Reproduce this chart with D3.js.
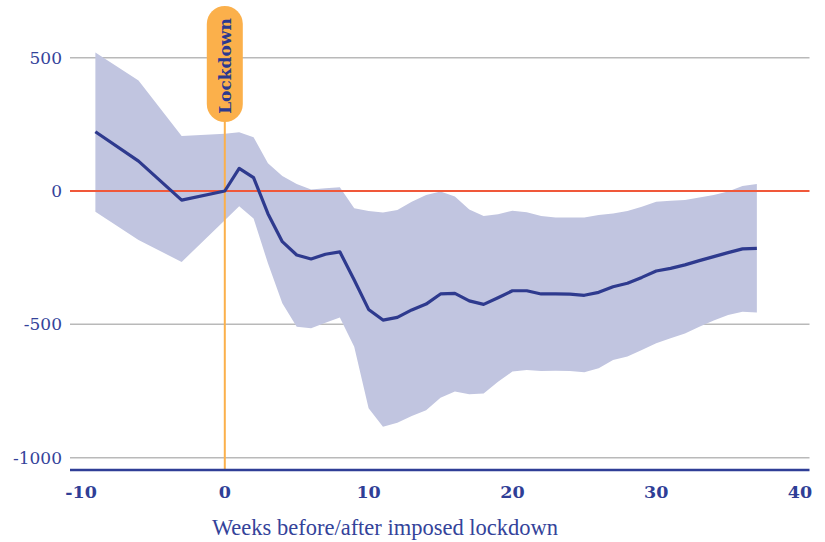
<!DOCTYPE html>
<html><head><meta charset="utf-8">
<script src="https://cdn.jsdelivr.net/npm/d3@7"></script>
<style>html,body{margin:0;padding:0;background:#fff;}svg{display:block;}</style>
</head><body>
<svg id="chart" width="825" height="542"></svg>
<script>
const weeks = [-9,-6,-3,0,1,2,3,4,5,6,7,8,9,10,11,12,13,14,15,16,17,18,19,20,21,22,23,24,25,26,27,28,29,30,31,32,33,34,35,36,37];
const meanVals = [222,112,-34,0,85,50,-85,-190,-240,-255,-237,-228,-334,-444,-484,-474,-446,-424,-386,-384,-412,-425,-400,-374,-374,-386,-386,-387,-391,-380,-359,-346,-324,-300,-290,-277,-261,-246,-231,-217,-215];
const upperVals = [519,414,206,215,220,202,104,56,26,6,10,14,-65,-75,-81,-71,-40,-15,-2,-21,-69,-94,-87,-74,-80,-94,-99,-99,-99,-90,-84,-75,-59,-40,-37,-34,-24,-15,-2,19,26];
const lowerVals = [-78,-184,-266,-110,-57,-103,-271,-421,-509,-515,-494,-474,-584,-815,-884,-869,-844,-822,-775,-752,-762,-759,-715,-677,-671,-675,-674,-675,-680,-665,-634,-621,-596,-571,-552,-534,-509,-486,-465,-453,-456];
const xTicks = [-10,0,10,20,30,40];
const yTicks = [500,0,-500,-1000];
const xTitle = "Weeks before/after imposed lockdown";
const markerLabel = "Lockdown";

const navy = "#2E3A8E";
const svg = d3.select("#chart");
const x = d3.scaleLinear().domain([-10,40]).range([81,800]);
const y = d3.scaleLinear().domain([0,-1000]).range([191,457.7]);
const left = 70, right = 809.5, axisY = 470;

const data = weeks.map((w,i)=>({w, m:meanVals[i], u:upperVals[i], l:lowerVals[i]}));

// gridlines
svg.append("g").selectAll("line").data(yTicks.filter(v=>v!==0)).join("line")
  .attr("x1",left).attr("x2",right).attr("y1",d=>y(d)).attr("y2",d=>y(d))
  .attr("stroke","#B9B9B9").attr("stroke-width",1.5);

// band
svg.append("path").datum(data)
  .attr("d", d3.area().x(d=>x(d.w)).y0(d=>y(d.l)).y1(d=>y(d.u)))
  .attr("fill","#C1C5E0");

// zero line
svg.append("line").attr("x1",left).attr("x2",right).attr("y1",y(0)).attr("y2",y(0))
  .attr("stroke","#F0583A").attr("stroke-width",2);

// lockdown vertical line
svg.append("line").attr("x1",x(0)).attr("x2",x(0)).attr("y1",120).attr("y2",axisY)
  .attr("stroke","#FBB04B").attr("stroke-width",2);

// mean line
svg.append("path").datum(data)
  .attr("d", d3.line().x(d=>x(d.w)).y(d=>y(d.m)))
  .attr("fill","none").attr("stroke",navy).attr("stroke-width",3.2).attr("stroke-linejoin","round");

// bottom axis line
svg.append("line").attr("x1",left).attr("x2",right).attr("y1",axisY).attr("y2",axisY)
  .attr("stroke","#2F3E96").attr("stroke-width",2.5);

// y labels
svg.append("g").selectAll("text").data(yTicks).join("text")
  .attr("x",62).attr("y",d=>y(d)).attr("dy","0.35em").attr("text-anchor","end")
  .attr("font-family","DejaVu Serif").attr("font-size",17).attr("fill","#34439A")
  .text(d=>d);

// x labels
svg.append("g").selectAll("text").data(xTicks).join("text")
  .attr("x",d=>x(d)).attr("y",497.5).attr("text-anchor","middle")
  .attr("font-family","DejaVu Serif").attr("font-weight","bold").attr("font-size",17.5).attr("fill","#2F3E96")
  .text(d=>d);

// x title
svg.append("text").attr("x",385).attr("y",535).attr("text-anchor","middle")
  .attr("font-family","Liberation Serif").attr("font-size",22.5).attr("fill","#34439A")
  .text(xTitle);

// lockdown marker
svg.append("rect").attr("x",x(0)-18).attr("y",6).attr("width",36).attr("height",116)
  .attr("rx",18).attr("ry",18).attr("fill","#FBB04B");
svg.append("text").attr("transform",`translate(${x(0)},${66}) rotate(-90)`)
  .attr("text-anchor","middle").attr("dy","0.35em")
  .attr("font-family","DejaVu Serif").attr("font-weight","bold").attr("font-size",17).attr("fill","#2B3990")
  .text(markerLabel);
</script>
</body></html>
